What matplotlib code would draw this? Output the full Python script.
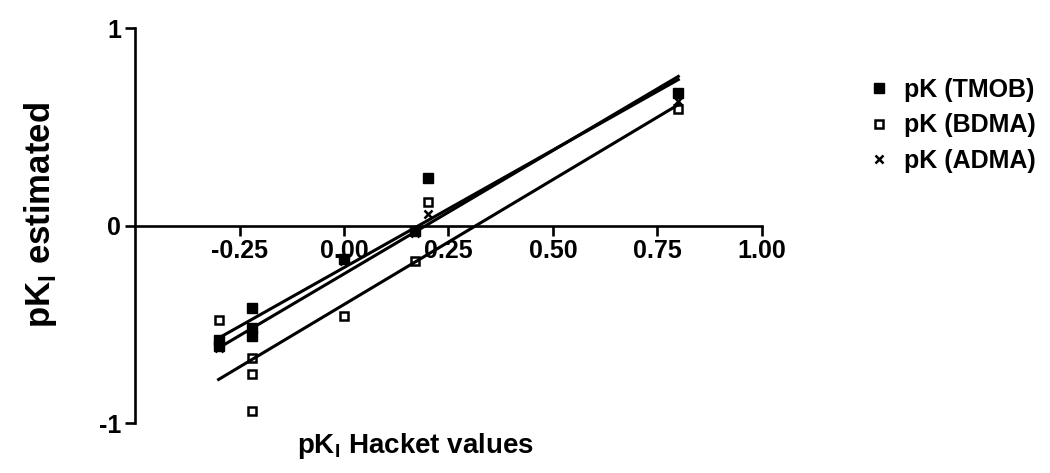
import numpy as np
import matplotlib.pyplot as plt

plt.rcParams['font.family'] = ['Liberation Sans', 'DejaVu Sans']
plt.rcParams['mathtext.fontset'] = 'custom'
plt.rcParams['mathtext.rm'] = 'Liberation Sans:bold'

# Hacket values (x) and estimated pK (y) for each series
tmob_x = [-0.30, -0.30, -0.22, -0.22, -0.22, 0.00, 0.17, 0.20, 0.80]
tmob_y = [-0.58, -0.61, -0.42, -0.52, -0.56, -0.17, -0.03, 0.24, 0.67]
bdma_x = [-0.30, -0.22, -0.22, -0.22, 0.00, 0.17, 0.20, 0.80]
bdma_y = [-0.48, -0.67, -0.75, -0.94, -0.46, -0.18, 0.12, 0.59]
adma_x = [-0.30, -0.22, 0.00, 0.17, 0.20, 0.80]
adma_y = [-0.62, -0.55, -0.18, -0.04, 0.06, 0.63]

# fitted lines as drawn in the figure (TMOB, BDMA, ADMA)
fit_slope = [1.19, 1.265, 1.25]
fit_intercept = [-0.213, -0.40, -0.245]
fit_range = [-0.30, 0.80]

fig = plt.figure(figsize=(10.5, 4.73), dpi=100)
ax = fig.add_axes([0.1286, 0.1057, 0.597, 0.835])

ax.plot(tmob_x, tmob_y, 's', color='black', ms=6.5, label='pK (TMOB)')
ax.plot(bdma_x, bdma_y, 's', mfc='white', mec='black', mew=1.8, ms=5.5, label='pK (BDMA)')
ax.plot(adma_x, adma_y, 'x', color='black', mew=1.8, ms=6, label='pK (ADMA)')

xx = np.array(fit_range)
for k, b in zip(fit_slope, fit_intercept):
    ax.plot(xx, k * xx + b, color='black', lw=2.2)

ax.set_xlim(-0.5, 1.0)
ax.set_ylim(-1, 1)
ax.spines['top'].set_visible(False)
ax.spines['right'].set_visible(False)
ax.spines['bottom'].set_position(('data', 0))
ax.spines['left'].set_linewidth(1.9)
ax.spines['bottom'].set_linewidth(1.9)
ax.set_xticks([-0.25, 0.0, 0.25, 0.50, 0.75, 1.00])
ax.set_xticklabels(['-0.25', '0.00', '0.25', '0.50', '0.75', '1.00'])
ax.set_yticks([-1, 0, 1])
ax.set_yticklabels(['-1', '0', '1'])
ax.tick_params(axis='both', labelsize=18, width=1.9, length=7, pad=3)
for lab in ax.get_xticklabels() + ax.get_yticklabels():
    lab.set_fontweight('bold')

fig.text(0.396, 0.058, r'pK$_\mathrm{I}$ Hacket values', ha='center', va='center',
         fontsize=20, fontweight='bold')
fig.text(0.039, 0.545, r'pK$_\mathrm{I}$ estimated', ha='center', va='center',
         rotation=90, fontsize=25, fontweight='bold')

leg = ax.legend(loc='upper left', bbox_to_anchor=(1.135, 0.93), frameon=False,
                handlelength=0.8, handletextpad=0.6, labelspacing=0.45,
                prop={'weight': 'bold', 'size': 18})

fig.savefig('out.png', dpi=100)
